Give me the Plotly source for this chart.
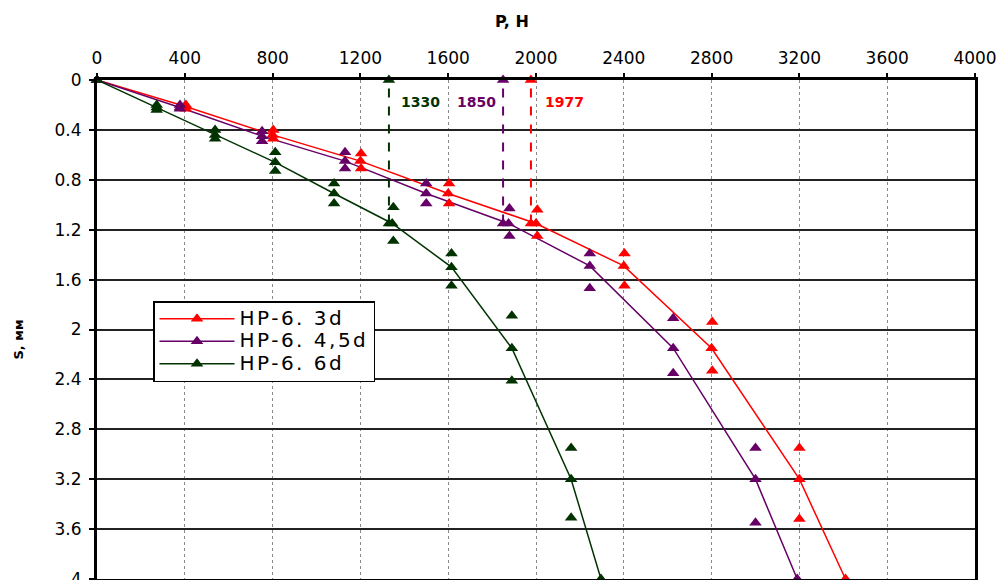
import plotly.graph_objects as go

# ---------------- data ----------------
series_names = ["HP-6. 3d", "HP-6. 4,5d", "HP-6. 6d"]
colors = ["#FF0000", "#660066", "#003300"]

# mean curves (P, H ; S, mm)
line_P_3d = [0, 400, 800, 1200, 1600, 2000, 2400, 2800, 3200, 3410]
line_S_3d = [0, 0.21, 0.44, 0.65, 0.91, 1.15, 1.49, 2.15, 3.2, 4.0]
line_P_45d = [0, 378, 752, 1130, 1500, 1875, 2245, 2625, 3000, 3190]
line_S_45d = [0, 0.22, 0.45, 0.65, 0.91, 1.15, 1.49, 2.15, 3.2, 4.0]
line_P_6d = [0, 272, 538, 812, 1080, 1345, 1615, 1890, 2160, 2296]
line_S_6d = [0, 0.22, 0.44, 0.66, 0.91, 1.15, 1.50, 2.15, 3.2, 4.0]

# individual test points
pts_P_3d = [405, 405, 803, 803, 1203, 1203, 1604, 1604, 2006, 2006, 2403, 2403, 2803, 2803, 3200, 3200]
pts_S_3d = [0.20, 0.23, 0.40, 0.47, 0.59, 0.71, 0.83, 0.99, 1.04, 1.25, 1.39, 1.65, 1.94, 2.33, 2.95, 3.52]
pts_P_45d = [378, 378, 752, 752, 1130, 1130, 1500, 1500, 1879, 1879, 2245, 2245, 2625, 2625, 3000, 3000]
pts_S_45d = [0.20, 0.23, 0.41, 0.49, 0.58, 0.71, 0.83, 0.99, 1.03, 1.25, 1.39, 1.67, 1.91, 2.35, 2.95, 3.55]
pts_P_6d = [272, 272, 538, 538, 812, 812, 1080, 1080, 1350, 1350, 1615, 1615, 1890, 1890, 2160, 2160]
pts_S_6d = [0.20, 0.24, 0.40, 0.47, 0.58, 0.73, 0.83, 0.99, 1.02, 1.29, 1.39, 1.65, 1.89, 2.41, 2.95, 3.51]

# critical loads
crit_P = [1977, 1850, 1330]
crit_S = [1.15, 1.15, 1.15]

x_ticks = [0, 400, 800, 1200, 1600, 2000, 2400, 2800, 3200, 3600, 4000]
y_ticks = [0, 0.4, 0.8, 1.2, 1.6, 2, 2.4, 2.8, 3.2, 3.6, 4]
y_tick_text = ["0", "0.4", "0.8", "1.2", "1.6", "2", "2.4", "2.8", "3.2", "3.6", "4"]

lines_P = [line_P_3d, line_P_45d, line_P_6d]
lines_S = [line_S_3d, line_S_45d, line_S_6d]
pts_P = [pts_P_3d, pts_P_45d, pts_P_6d]
pts_S = [pts_S_3d, pts_S_45d, pts_S_6d]

FONT = "DejaVu Sans"
MS = 11

fig = go.Figure()

for i in range(3):
    fig.add_trace(go.Scatter(
        x=lines_P[i], y=lines_S[i], mode="lines+markers",
        name='<span style="font-size:20px;letter-spacing:2.5px">' + series_names[i] + '</span>',
        line=dict(color=colors[i], width=1.5),
        marker=dict(symbol="triangle-up", size=MS, color=colors[i]),
        cliponaxis=False,
    ))
for i in range(3):
    fig.add_trace(go.Scatter(
        x=pts_P[i], y=pts_S[i], mode="markers", showlegend=False,
        marker=dict(symbol="triangle-up", size=MS, color=colors[i]),
        cliponaxis=False,
    ))
for i in range(3):
    fig.add_trace(go.Scatter(
        x=[crit_P[i], crit_P[i]], y=[crit_S[i], 0], mode="lines+markers", showlegend=False,
        line=dict(color=colors[i], width=2, dash="dash"),
        marker=dict(symbol="triangle-up", size=MS, color=colors[i]),
        cliponaxis=False,
    ))

# critical load labels
label_anchor = ["left", "right", "left"]
label_shift = [12, -5, 10]
for i in range(3):
    fig.add_annotation(
        x=crit_P[i], y=0.176, xref="x", yref="y", text=str(crit_P[i]),
        showarrow=False, xanchor=label_anchor[i], xshift=label_shift[i], yanchor="middle",
        font=dict(family=FONT, size=14, color=colors[i], weight="bold"),
    )

# axis titles
fig.add_annotation(
    x=(512 - 97) / 878, y=1 + (80 - 21) / 499, xref="paper", yref="paper",
    text="<b>P, H</b>", showarrow=False, xanchor="center", yanchor="middle",
    font=dict(family=FONT, size=16, color="black"),
)
fig.add_annotation(
    x=(17.5 - 97) / 878, y=1 - (340 - 80) / 499, xref="paper", yref="paper",
    text="<b>S, мм</b>", showarrow=False, xanchor="center", yanchor="middle",
    textangle=-90, font=dict(family=FONT, size=13, color="black"),
)

fig.update_layout(
    width=997, height=580,
    margin=dict(l=97, r=22, t=80, b=1, autoexpand=False),
    paper_bgcolor="white", plot_bgcolor="white",
    font=dict(family=FONT, size=17, color="black"),
    xaxis=dict(
        side="top", range=[0, 4000], tickvals=x_ticks, automargin=False,
        showgrid=True, gridcolor="#8a8a8a", gridwidth=1, griddash="dot",
        showline=True, linecolor="black", linewidth=3, mirror=True,
        ticks="outside", ticklen=4, tickwidth=2, tickcolor="black",
        ticklabelstandoff=2, zeroline=False,
        tickfont=dict(family=FONT, size=17, color="black"),
    ),
    yaxis=dict(
        range=[4, 0], tickvals=y_ticks, ticktext=y_tick_text, automargin=False,
        showgrid=True, gridcolor="#222222", gridwidth=1.5,
        showline=True, linecolor="black", linewidth=3, mirror=True,
        ticks="outside", ticklen=5, tickwidth=2, tickcolor="black",
        ticklabelstandoff=4, zeroline=False, ticklabeloverflow="allow",
        tickfont=dict(family=FONT, size=17, color="black"),
    ),
    legend=dict(
        x=(153 - 97) / 878, y=1 - (301 - 80) / 499, xanchor="left", yanchor="top",
        bgcolor="white", bordercolor="black", borderwidth=1.5,
        font=dict(family=FONT, size=15, color="black"),
        itemwidth=75, tracegroupgap=0,
    ),
    showlegend=True,
)

fig.write_html("out.html")
